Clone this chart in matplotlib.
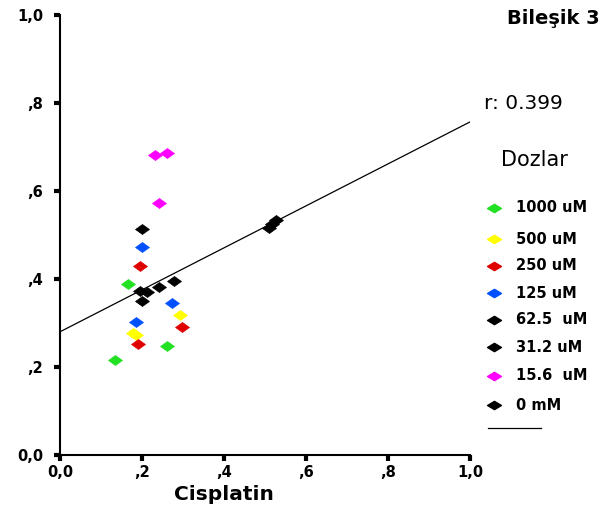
import matplotlib
matplotlib.use("Agg")
import matplotlib.pyplot as plt
from matplotlib.lines import Line2D
from matplotlib.path import Path
import numpy as np

plt.rcParams['font.family'] = ['DejaVu Sans']

# Dose groups: label, colour, cisplatin (x) and compound (y) values
labels = ["1000 uM", "500 uM", "250 uM", "125 uM", "62.5  uM", "31.2 uM", "15.6  uM", "0 mM"]
colors = ["#22e022", "#ffff00", "#e00000", "#0050ff", "#000000", "#000000", "#ff00ff", "#000000"]
x_vals = [
    [0.165, 0.262, 0.135],
    [0.293, 0.179, 0.186],
    [0.195, 0.297, 0.191],
    [0.199, 0.272, 0.185],
    [0.199, 0.195, 0.242],
    [0.213, 0.278, 0.199],
    [0.232, 0.262, 0.241],
    [0.509, 0.517, 0.526],
]
y_vals = [
    [0.388, 0.248, 0.216],
    [0.318, 0.278, 0.272],
    [0.430, 0.292, 0.252],
    [0.472, 0.345, 0.302],
    [0.513, 0.373, 0.381],
    [0.370, 0.396, 0.350],
    [0.682, 0.687, 0.572],
    [0.516, 0.525, 0.534],
]
fit_intercept = 0.28
fit_slope = 0.477
r_value = 0.399

tick_vals = [0.0, 0.2, 0.4, 0.6, 0.8, 1.0]
tick_labels = ["0,0", ",2", ",4", ",6", ",8", "1,0"]

# flattened diamond markers
diamond = Path([(-1, 0), (0, 0.72), (1, 0), (0, -0.72), (-1, 0)],
               [Path.MOVETO, Path.LINETO, Path.LINETO, Path.LINETO, Path.CLOSEPOLY])
small_diamond = Path([(-1, 0), (0, 0.6), (1, 0), (0, -0.6), (-1, 0)],
                     [Path.MOVETO, Path.LINETO, Path.LINETO, Path.LINETO, Path.CLOSEPOLY])

W, H = 609, 511
fig = plt.figure(figsize=(W / 100, H / 100), dpi=100)
ax = fig.add_axes([60 / W, 1 - 455 / H, 410 / W, 440 / H])

for xs, ys, c in zip(x_vals, y_vals, colors):
    ax.plot(xs, ys, linestyle="none", marker=diamond, markersize=10,
            markerfacecolor=c, markeredgecolor=c, markeredgewidth=0.5, zorder=3)

fx = np.array([0.0, 1.0])
ax.plot(fx, fit_intercept + fit_slope * fx, color="black", linewidth=0.9, zorder=2)

ax.set_xlim(0, 1.0)
ax.set_ylim(0, 1.0)
ax.set_xticks(tick_vals)
ax.set_xticklabels(tick_labels)
ax.set_yticks(tick_vals)
ax.set_yticklabels(tick_labels)
for lbl in ax.get_xticklabels() + ax.get_yticklabels():
    lbl.set_fontweight("bold")
    lbl.set_fontsize(10.5)
ax.tick_params(axis="both", direction="out", length=4, width=3)
ax.tick_params(axis="y", pad=8)
ax.tick_params(axis="x", pad=3)
ax.spines["top"].set_visible(False)
ax.spines["right"].set_visible(False)
ax.spines["left"].set_linewidth(1.5)
ax.spines["bottom"].set_linewidth(1.5)
ax.set_xlabel("Cisplatin", fontsize=14.5, fontweight="bold")
ax.xaxis.set_label_coords(0.40, -0.069)

# side annotations
fig.text(600 / W, 1 - 18 / H, "Bileşik 3", ha="right", va="center",
         fontsize=14, fontweight="bold")
fig.text(484 / W, 1 - 103 / H, f"r: {r_value}", ha="left", va="center", fontsize=14.5)
fig.text(501 / W, 1 - 160 / H, "Dozlar", ha="left", va="center", fontsize=15)

# legend entries
legend_y = [208, 239, 266, 293, 320, 347, 376, 405]
for yy, lab, c in zip(legend_y, labels, colors):
    fig.add_artist(Line2D([494 / W], [1 - yy / H], transform=fig.transFigure,
                          linestyle="none", marker=small_diamond, markersize=10,
                          markerfacecolor=c, markeredgecolor=c))
    fig.text(516 / W, 1 - yy / H, lab, ha="left", va="center",
             fontsize=10.5, fontweight="bold")
fig.add_artist(Line2D([488 / W, 541 / W], [1 - 428 / H, 1 - 428 / H],
                      transform=fig.transFigure, color="black", linewidth=0.9))

fig.savefig("out.png", dpi=100)
